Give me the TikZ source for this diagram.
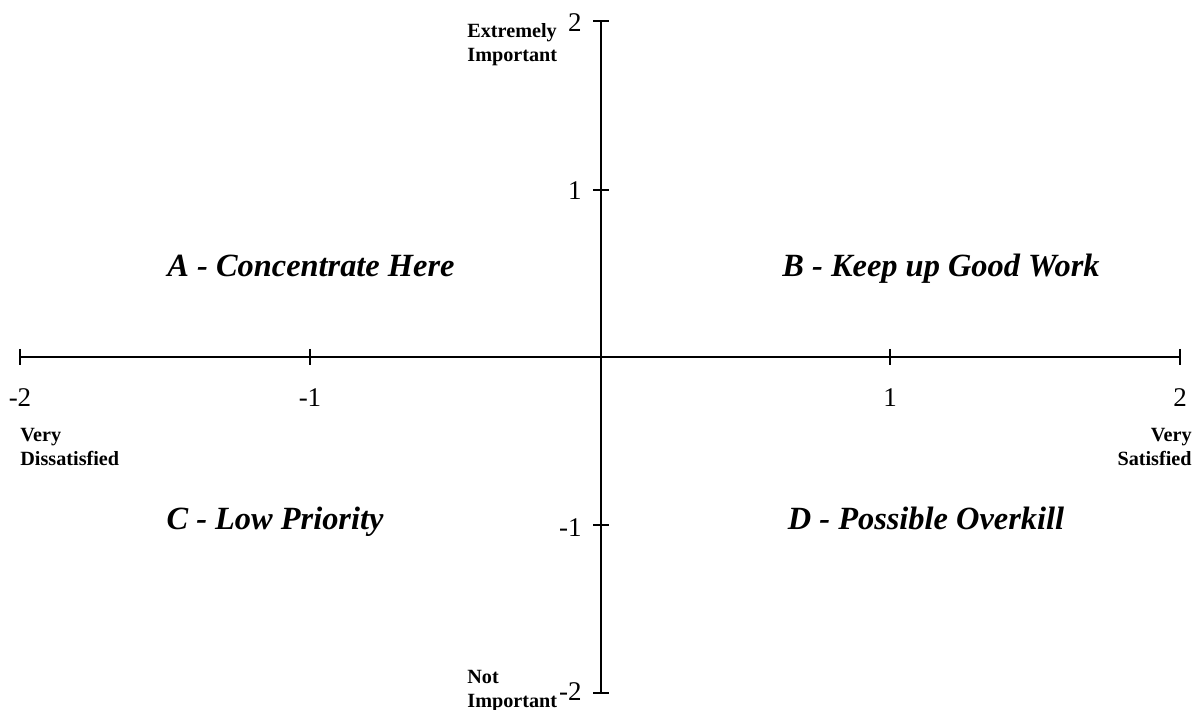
\documentclass[tikz,border=0pt]{standalone}
\usepackage{fontspec}
\setmainfont{Liberation Serif}
\usepackage{tikz}
\usetikzlibrary{positioning}

\begin{document}
\begin{tikzpicture}[
    x=0.5pt, y=-0.5pt,
    axis/.style={line width=0.6pt},
    num/.style={font=\fontsize{13.5}{15}\selectfont, inner sep=0pt},
    endlabel/.style={font=\fontsize{10.1}{12}\selectfont\bfseries, inner sep=0pt},
    quadrant/.style={font=\fontsize{16.2}{19}\selectfont\bfseries\itshape, inner sep=0pt}
]
\useasboundingbox (0,0) rectangle (1199,710);

% Axes
\coordinate (origin) at (601,357);
\coordinate (xmin) at (20,357);
\coordinate (xmax) at (1180,357);
\coordinate (ymax) at (601,21);
\coordinate (ymin) at (601,693);
\draw[axis] (xmin) -- (xmax);
\draw[axis] (ymin) -- (ymax);

% Ticks and numbers on the horizontal axis
\foreach \x/\lab [count=\i] in {20/-2, 310/-1, 890/1, 1180/2} {
    \coordinate (xt\i) at (\x,357);
    \draw[axis] ([yshift=4pt]xt\i) -- ([yshift=-4pt]xt\i);
    \node[num, anchor=base] (xn\i) at (\x,407) {\lab};
}

% Ticks and numbers on the vertical axis
\foreach \y/\lab/\b [count=\i] in {21/2/32, 190/1/200, 525/-1/537, 693/-2/700} {
    \coordinate (yt\i) at (601,\y);
    \draw[axis] ([xshift=-4pt]yt\i) -- ([xshift=4pt]yt\i);
    \node[num, anchor=base east] (yn\i) at (582,\b) {\lab};
}

% Axis end labels
\node[endlabel, align=left, anchor=north west] (dissat) at (20,428) {Very\\Dissatisfied};
\node[endlabel, align=right, anchor=north east] (sat) at (1192,428) {Very\\Satisfied};
\node[endlabel, align=left, anchor=north west] (impt) at (467,23) {Extremely\\Important};
\node[endlabel, align=left, anchor=north west] (notimpt) at (467,670) {Not\\Important};

% Quadrants
\node[quadrant, anchor=base] (qa) at (311,277) {A - Concentrate Here};
\node[quadrant, anchor=base] (qb) at (941,277) {B - Keep up Good Work};
\node[quadrant, anchor=base] (qc) at (275,530) {C - Low Priority};
\node[quadrant, anchor=base] (qd) at (926,530) {D - Possible Overkill};

\end{tikzpicture}
\end{document}
